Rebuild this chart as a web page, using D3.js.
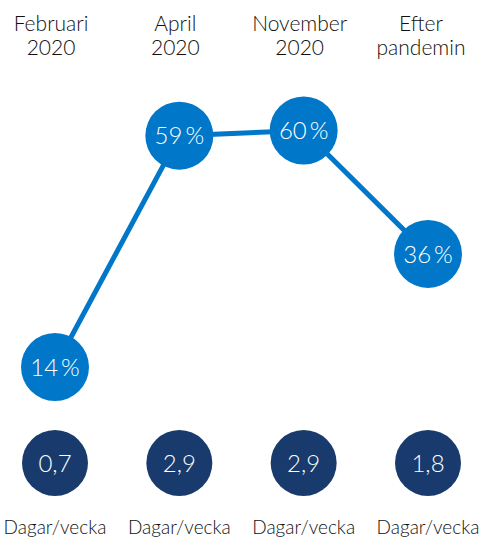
<!DOCTYPE html>
<html><head><meta charset="utf-8">
<script src="https://cdn.jsdelivr.net/npm/d3@7"></script>
<style>body{margin:0;background:#fff}svg{display:block}</style>
</head><body>
<svg id="c" width="481" height="538"></svg>
<script>
const categories = [["Februari","2020"],["April","2020"],["November","2020"],["Efter","pandemin"]];
const shareValues = [14, 59, 60, 36];
const shareLabels = ["14\u2009%", "59\u2009%", "60\u2009%", "36\u2009%"];
const daysValues = ["0,7", "2,9", "2,9", "1,8"];
const unitLabel = "Dagar/vecka";

const blue = "#0077c8", navy = "#183a6c";
const svg = d3.select("#c");
const x = d3.scalePoint().domain(d3.range(categories.length)).range([55, 428]);
const y = d3.scaleLinear().domain([14, 60]).range([367, 130.5]);
const font = "Lato, 'Open Sans', sans-serif";

categories.forEach((c, i) => {
  const cx = x(i) - (i === 3 ? 7 : 4);
  const t = svg.append("text").attr("text-anchor", "middle")
    .attr("font-family", font).attr("font-weight", 300).attr("font-size", 21).attr("fill", "#111");
  t.append("tspan").attr("x", cx).attr("y", 31).text(c[0]);
  t.append("tspan").attr("x", cx).attr("y", 55).text(c[1]);
});

const line = d3.line().x((d, i) => x(i)).y(d => y(d));
svg.append("path").datum(shareValues).attr("d", line)
  .attr("fill", "none").attr("stroke", blue).attr("stroke-width", 5);

const g = svg.selectAll(".pt").data(shareValues).join("g")
  .attr("transform", (d, i) => `translate(${x(i)},${y(d)})`);
g.append("circle").attr("r", 34).attr("fill", blue);
g.append("text").attr("text-anchor", "middle").attr("dy", "0.36em")
  .attr("font-family", font).attr("font-weight", 300).attr("font-size", 24)
  .attr("fill", "#fff").text((d, i) => shareLabels[i]);

const g2 = svg.selectAll(".dd").data(daysValues).join("g")
  .attr("transform", (d, i) => `translate(${x(i)},463)`);
g2.append("circle").attr("r", 33).attr("fill", navy);
g2.append("text").attr("text-anchor", "middle").attr("dy", "0.36em")
  .attr("font-family", font).attr("font-weight", 300).attr("font-size", 24)
  .attr("fill", "#fff").text(d => d);

svg.selectAll(".ul").data(daysValues).join("text")
  .attr("x", (d, i) => x(i)).attr("y", 534).attr("text-anchor", "middle")
  .attr("font-family", font).attr("font-weight", 300).attr("font-size", 19).attr("fill", "#111")
  .text(unitLabel);
</script>
</body></html>
